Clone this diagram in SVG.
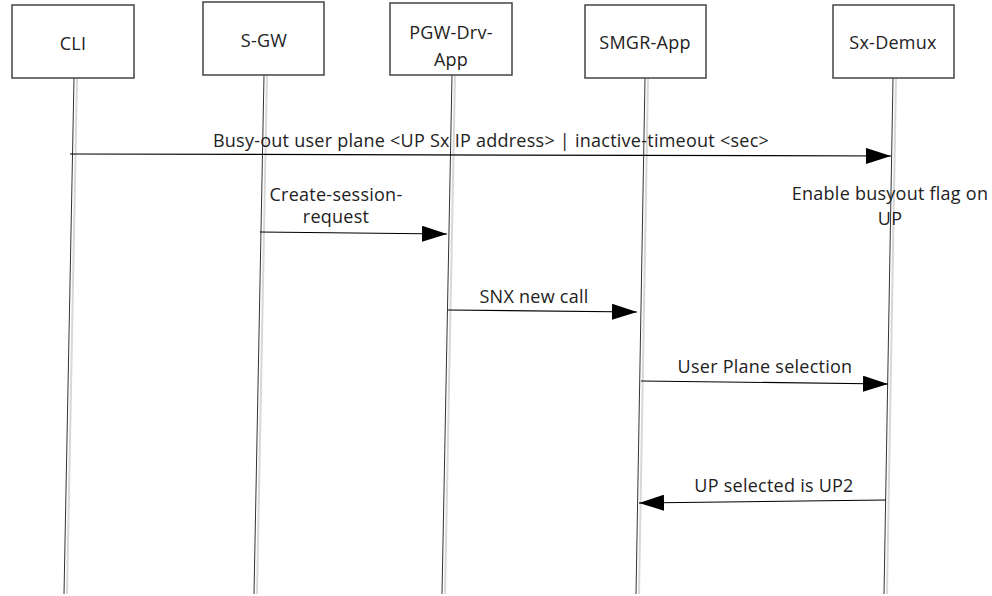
<svg xmlns="http://www.w3.org/2000/svg" width="992" height="596" viewBox="0 0 992 596">
<defs>
<style>
.box{fill:#fff;stroke:#444;stroke-width:1.5}
.life{stroke:#333;stroke-width:1;fill:none}
.shadow{stroke:#d8d8d8;stroke-width:2;fill:none}
.msg{stroke:#000;stroke-width:1.2;fill:none}
text{font-family:"Open Sans","Liberation Sans",Arial,sans-serif;font-size:18px;letter-spacing:0.25px;fill:#222;text-anchor:middle}
</style>
<marker id="ah" viewBox="0 0 25 16" refX="25" refY="8" markerWidth="25" markerHeight="16" markerUnits="userSpaceOnUse" orient="auto">
<path d="M0,0 L25,8 L0,16 Z" fill="#000"/>
</marker>
</defs>
<rect width="992" height="596" fill="#fff"/>
<g id="lifelines">
<line class="shadow" x1="77" y1="78" x2="67" y2="594"/>
<line class="life" x1="74" y1="78" x2="64" y2="594"/>
<line class="shadow" x1="267" y1="75" x2="257" y2="594"/>
<line class="life" x1="264" y1="75" x2="254" y2="594"/>
<line class="shadow" x1="455" y1="75" x2="445" y2="594"/>
<line class="life" x1="452" y1="75" x2="442" y2="594"/>
<line class="shadow" x1="648" y1="78" x2="639" y2="594"/>
<line class="life" x1="645" y1="78" x2="636" y2="594"/>
<line class="shadow" x1="896" y1="78" x2="887" y2="594"/>
<line class="life" x1="893" y1="78" x2="884" y2="594"/>
</g>
<g id="cli"><rect class="box" x="12" y="5" width="122" height="73"/><text x="73" y="50">CLI</text></g>
<g id="sgw"><rect class="box" x="203" y="2" width="121" height="73"/><text x="264" y="47">S-GW</text></g>
<g id="pgw"><rect class="box" x="390" y="3" width="122" height="72"/><text x="451" y="39">PGW-Drv-</text><text x="451" y="66">App</text></g>
<g id="smgr"><rect class="box" x="585" y="5" width="121" height="73"/><text x="645" y="49">SMGR-App</text></g>
<g id="sxdemux"><rect class="box" x="833" y="5" width="121" height="73"/><text x="893" y="49">Sx-Demux</text></g>
<g id="connectors">
<line class="msg" x1="70" y1="154" x2="891" y2="156" marker-end="url(#ah)"/>
<line class="msg" x1="260" y1="232" x2="447" y2="234" marker-end="url(#ah)"/>
<line class="msg" x1="448" y1="310" x2="637" y2="312" marker-end="url(#ah)"/>
<line class="msg" x1="641" y1="381" x2="888" y2="384" marker-end="url(#ah)"/>
<line class="msg" x1="886" y1="500" x2="639" y2="503" marker-end="url(#ah)"/>
</g>
<g id="labels">
<text x="491" y="147">Busy-out user plane &lt;UP Sx IP address&gt; | inactive-timeout &lt;sec&gt;</text>
<text x="336" y="201">Create-session-</text>
<text x="336" y="223">request</text>
<text x="890" y="200">Enable busyout flag on</text>
<text x="890" y="225">UP</text>
<text x="534" y="303">SNX new call</text>
<text x="765" y="373">User Plane selection</text>
<text x="774" y="492">UP selected is UP2</text>
</g>
</svg>
